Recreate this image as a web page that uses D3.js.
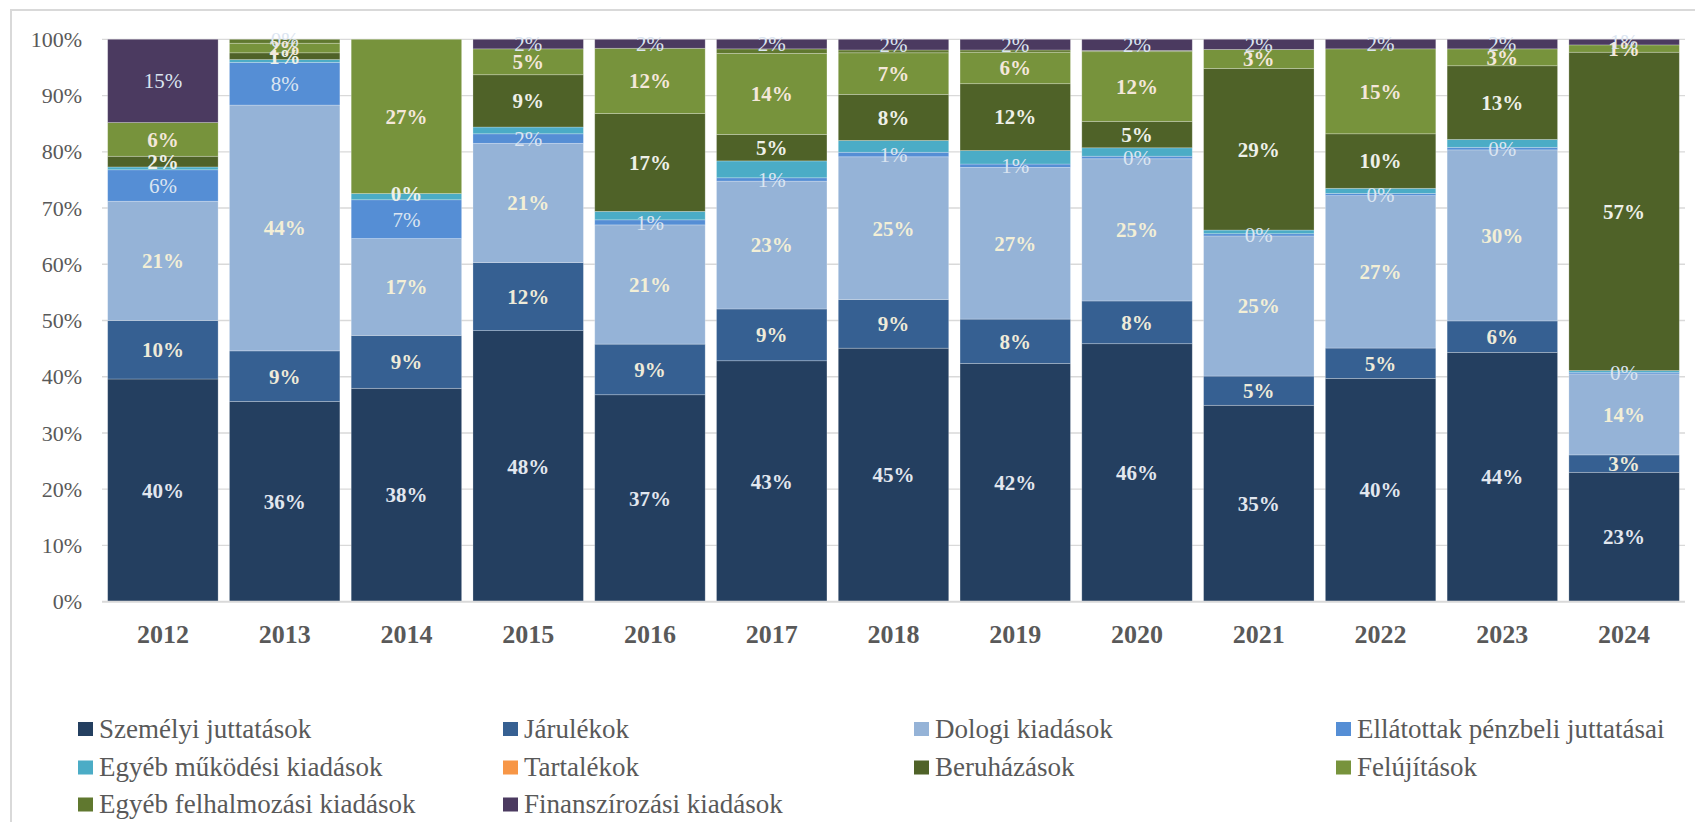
<!DOCTYPE html>
<html>
<head>
<meta charset="utf-8">
<script src="https://cdn.jsdelivr.net/npm/d3@7"></script>
<style>
  body { margin: 0; background: #fff; }
  svg { display: block; font-family: "Liberation Serif", serif; }
</style>
</head>
<body>
<svg width="1695" height="822"></svg>
<script>
// shares of the yearly spending, in %
const years = ["2012", "2013", "2014", "2015", "2016", "2017", "2018", "2019", "2020", "2021", "2022", "2023", "2024"]

const szemelyi = [39.6, 35.6, 37.9, 48.2, 36.8, 42.8, 45.1, 42.4, 45.9, 34.9, 39.7, 44.3, 23.0]
const jarulekok = [10.4, 9.0, 9.4, 12.1, 9.0, 9.2, 8.65, 7.9, 7.6, 5.2, 5.4, 5.6, 3.1]
const dologi = [21.2, 43.7, 17.2, 21.2, 21.2, 22.7, 25.4, 27.0, 25.3, 24.9, 27.1, 30.4, 14.4]
const ellatottak = [5.6, 7.6, 6.9, 1.7, 0.9, 0.6, 0.8, 0.6, 0.45, 0.4, 0.4, 0.45, 0.3]
const egyebMukodesi = [0.5, 0.5, 1.1, 1.2, 1.5, 3.0, 2.1, 2.4, 1.5, 0.65, 0.9, 1.4, 0.3]
const tartalekok = [0, 0, 0, 0, 0, 0, 0, 0, 0, 0, 0, 0, 0]
const beruhazasok = [1.9, 1.2, 0, 9.3, 17.4, 4.7, 8.2, 11.9, 4.7, 28.7, 9.7, 13.1, 56.6]
const felujitasok = [6.0, 1.7, 27.4, 4.6, 11.6, 14.4, 7.4, 5.6, 12.4, 3.4, 15.1, 3.0, 1.3]
const egyebFelhalmozasi = [0, 0.7, 0, 0, 0, 0.8, 0.5, 0.4, 0.2, 0, 0, 0, 0]
const finanszirozasi = [14.8, 0, null, 1.7, 1.6, 1.7, 1.9, 1.9, 2.0, 1.8, 1.7, 1.7, 1.0]

const seriesNames = [
    "Személyi juttatások", "Járulékok", "Dologi kiadások", "Ellátottak pénzbeli juttatásai",
    "Egyéb működési kiadások", "Tartalékok", "Beruházások", "Felújítások",
    "Egyéb felhalmozási kiadások", "Finanszírozási kiadások"
]
const seriesValues = [szemelyi, jarulekok, dologi, ellatottak, egyebMukodesi,
    tartalekok, beruhazasok, felujitasok, egyebFelhalmozasi, finanszirozasi]

const yTicks = [0, 0.1, 0.2, 0.3, 0.4, 0.5, 0.6, 0.7, 0.8, 0.9, 1]

// look of each series: fill, and label colour / weight (null = no label)
const colors = ["#243f60", "#366092", "#95b3d7", "#558ed5", "#4bacc6",
    "#f79646", "#4f6228", "#77933c", "#60782f", "#4b3a60"]
const labelStyle = [
    { fill: "#e2e7ef", weight: "bold" },
    { fill: "#efebd9", weight: "bold" },
    { fill: "#f3efd6", weight: "bold" },
    { fill: "#dbe5f1", weight: "normal" },
    null,
    null,
    { fill: "#eef0e8", weight: "bold" },
    { fill: "#f4e7da", weight: "bold" },
    null,
    { fill: "#dbe5f1", weight: "normal" }
]

const svg = d3.select("svg")
const textGrey = "#595959"
const gridGrey = "#d9d9d9"

// outer chart border (cut off at right and bottom)
svg.append("rect")
    .attr("x", 11).attr("y", 10)
    .attr("width", 1720).attr("height", 850)
    .attr("fill", "none")
    .attr("stroke", gridGrey)
    .attr("stroke-width", 2)

const x = d3.scaleBand()
    .domain(years)
    .range([102, 1685])
    .paddingInner(0.093)
    .paddingOuter(0.0465)

const y = d3.scaleLinear()
    .domain([0, 1])
    .range([601.7, 39.3])

let rows = years.map((yr, i) => {
    let r = { year: yr }
    seriesNames.forEach((n, k) => r[n] = seriesValues[k][i] == null ? 0 : seriesValues[k][i])
    return r
})

let stacked = d3.stack()
    .keys(seriesNames)
    .offset(d3.stackOffsetExpand)(rows)

// gridlines
svg.append("g")
    .selectAll("line")
    .data(yTicks.slice(1))
    .enter().append("line")
    .attr("x1", x.range()[0])
    .attr("x2", x.range()[1])
    .attr("y1", d => y(d))
    .attr("y2", d => y(d))
    .attr("stroke", gridGrey)
    .attr("stroke-width", 1.3)

// y axis labels
let yAxis = svg.append("g")
    .attr("transform", "translate(82,0)")
    .call(d3.axisLeft(y).tickValues(yTicks).tickFormat(d3.format(".0%")).tickSize(0).tickPadding(0))
    .attr("font-family", null)
    .attr("font-size", null)
yAxis.select(".domain").remove()
yAxis.selectAll("text")
    .attr("font-size", 22)
    .attr("fill", textGrey)

// bars
svg.append("g")
    .selectAll("g")
    .data(stacked)
    .enter().append("g")
    .attr("fill", (d, k) => colors[k])
    .selectAll("rect")
    .data(d => d)
    .enter().append("rect")
    .attr("x", d => x(d.data.year))
    .attr("width", x.bandwidth())
    .attr("y", d => y(d[1]))
    .attr("height", d => y(d[0]) - y(d[1]))
    .attr("stroke", "rgba(255,255,255,0.3)")
    .attr("stroke-width", d => d[1] - d[0] > 0 ? 0.8 : 0)

// base axis line
svg.append("line")
    .attr("x1", x.range()[0])
    .attr("x2", x.range()[1])
    .attr("y1", y(0))
    .attr("y2", y(0))
    .attr("stroke", gridGrey)
    .attr("stroke-width", 2)

// x axis labels
let xAxis = svg.append("g")
    .attr("transform", `translate(0,${y(0)})`)
    .call(d3.axisBottom(x).tickSize(0).tickPadding(23))
    .attr("font-family", null)
    .attr("font-size", null)
xAxis.select(".domain").remove()
xAxis.selectAll("text")
    .attr("font-size", 26)
    .attr("font-weight", "bold")
    .attr("fill", textGrey)

// data labels
let labels = []
stacked.forEach((layer, k) => {
    if (!labelStyle[k]) return
    layer.forEach((d, i) => {
        let v = seriesValues[k][i]
        if (v == null) return
        labels.push({ k: k, year: d.data.year, mid: (d[0] + d[1]) / 2, text: Math.round(v) + "%" })
    })
})

svg.append("g")
    .attr("text-anchor", "middle")
    .selectAll("text")
    .data(labels)
    .enter().append("text")
    .attr("x", d => x(d.year) + x.bandwidth() / 2)
    .attr("y", d => y(d.mid))
    .attr("dy", "0.35em")
    .attr("font-size", 21)
    .attr("font-weight", d => labelStyle[d.k].weight)
    .attr("fill", d => labelStyle[d.k].fill)
    .text(d => d.text)

// legend, 4 columns
const legendCols = [78, 503, 914, 1336]
const legendRows = [729, 767.5, 804.5]

let legend = svg.append("g")
    .selectAll("g")
    .data(seriesNames)
    .enter().append("g")
    .attr("transform", (d, i) => `translate(${legendCols[i % 4]},${legendRows[Math.floor(i / 4)]})`)

legend.append("rect")
    .attr("x", 0)
    .attr("y", -7)
    .attr("width", 15)
    .attr("height", 14)
    .attr("fill", (d, i) => colors[i])

legend.append("text")
    .attr("x", 21)
    .attr("dy", "0.32em")
    .attr("font-size", 27)
    .attr("fill", textGrey)
    .text(d => d)
</script>
</body>
</html>
